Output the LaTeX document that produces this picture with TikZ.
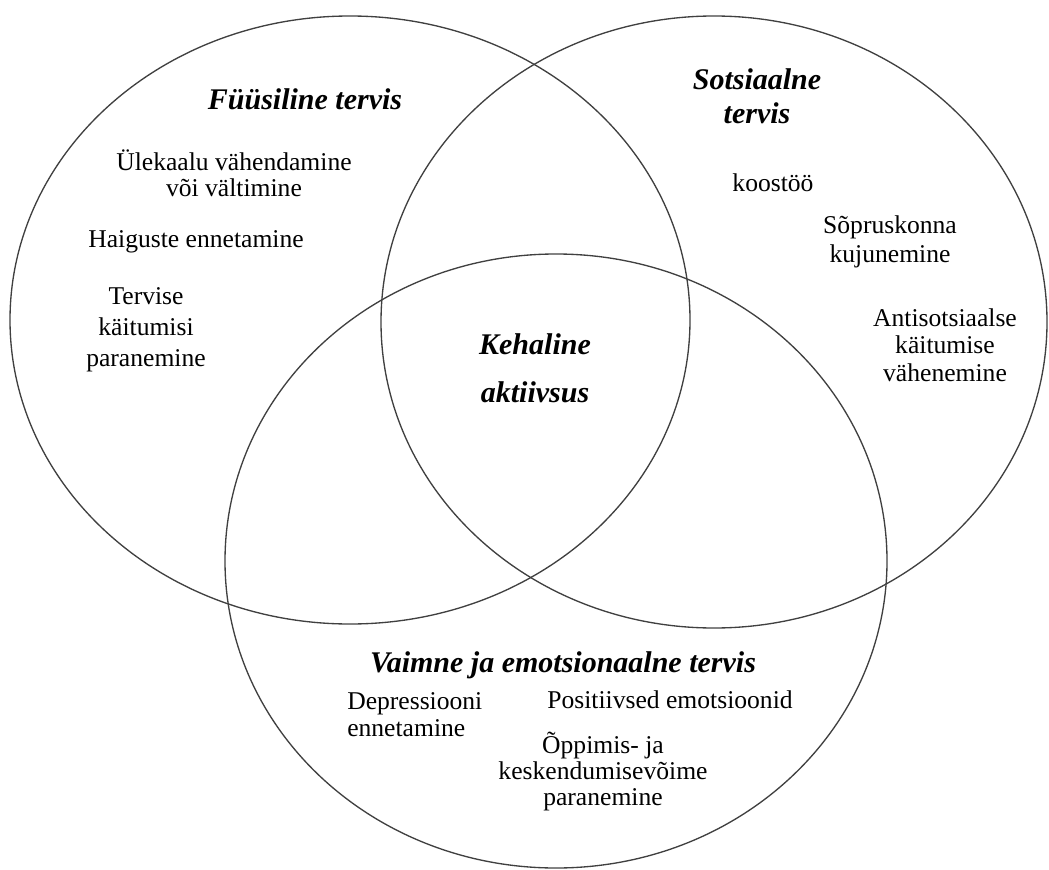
\documentclass[tikz,border=0pt]{standalone}
\usepackage{fontspec}
\setmainfont{Liberation Serif}
\tikzset{
	set/.style={draw=black!75, line width=1pt},
	item/.style={inner sep=0pt, align=center, anchor=base,
		font=\fontsize{19.2}{19.2}\selectfont},
	head/.style={inner sep=0pt, align=center, anchor=base,
		font=\fontsize{22.5}{22.5}\selectfont\bfseries\itshape},
}
\begin{document}
\begin{tikzpicture}[x=0.75pt,y=-0.75pt]
	\useasboundingbox (0,0) rectangle (1049,870);
	% the three sets
	\draw [set] (350,320) ellipse [x radius=340, y radius=304];
	\draw [set] (714,322) ellipse [x radius=333, y radius=306];
	\draw [set] (556,561) ellipse [x radius=331, y radius=307];

	% physical
	\node [head] (fys) at (305,110) {Füüsiline tervis};
	\node [item] (fys1) at (234,196) {Ülekaalu vähendamine\\või vältimine};
	\node [item] (fys2) at (196,247) {Haiguste ennetamine};
	\node [item] (fys3) at (146,366) {Tervise\\[4pt]käitumisi\\[4pt]paranemine};

	% social
	\node [head] (sots) at (757,124) {Sotsiaalne\\[3pt]tervis};
	\node [item] (sots1) at (773,191) {koostöö};
	\node [item] (sots2) at (890,262) {Sõpruskonna\\[2pt]kujunemine};
	\node [item] (sots3) at (945,381) {Antisotsiaalse\\[1.4pt]käitumise\\[1.4pt]vähenemine};

	% centre
	\node [head] (keha) at (535,402) {Kehaline\\[13pt]aktiivsus};

	% mental
	\node [head] (vaim) at (563,672) {Vaimne ja emotsionaalne tervis};
	\node [item, align=left, anchor=base west] (vaim1) at (347,736) {Depressiooni\\[1pt]ennetamine};
	\node [item] (vaim2) at (670,708) {Positiivsed emotsioonid};
	\node [item] (vaim3) at (603,805) {Õppimis- ja\\keskendumisevõime\\paranemine};
\end{tikzpicture}
\end{document}
